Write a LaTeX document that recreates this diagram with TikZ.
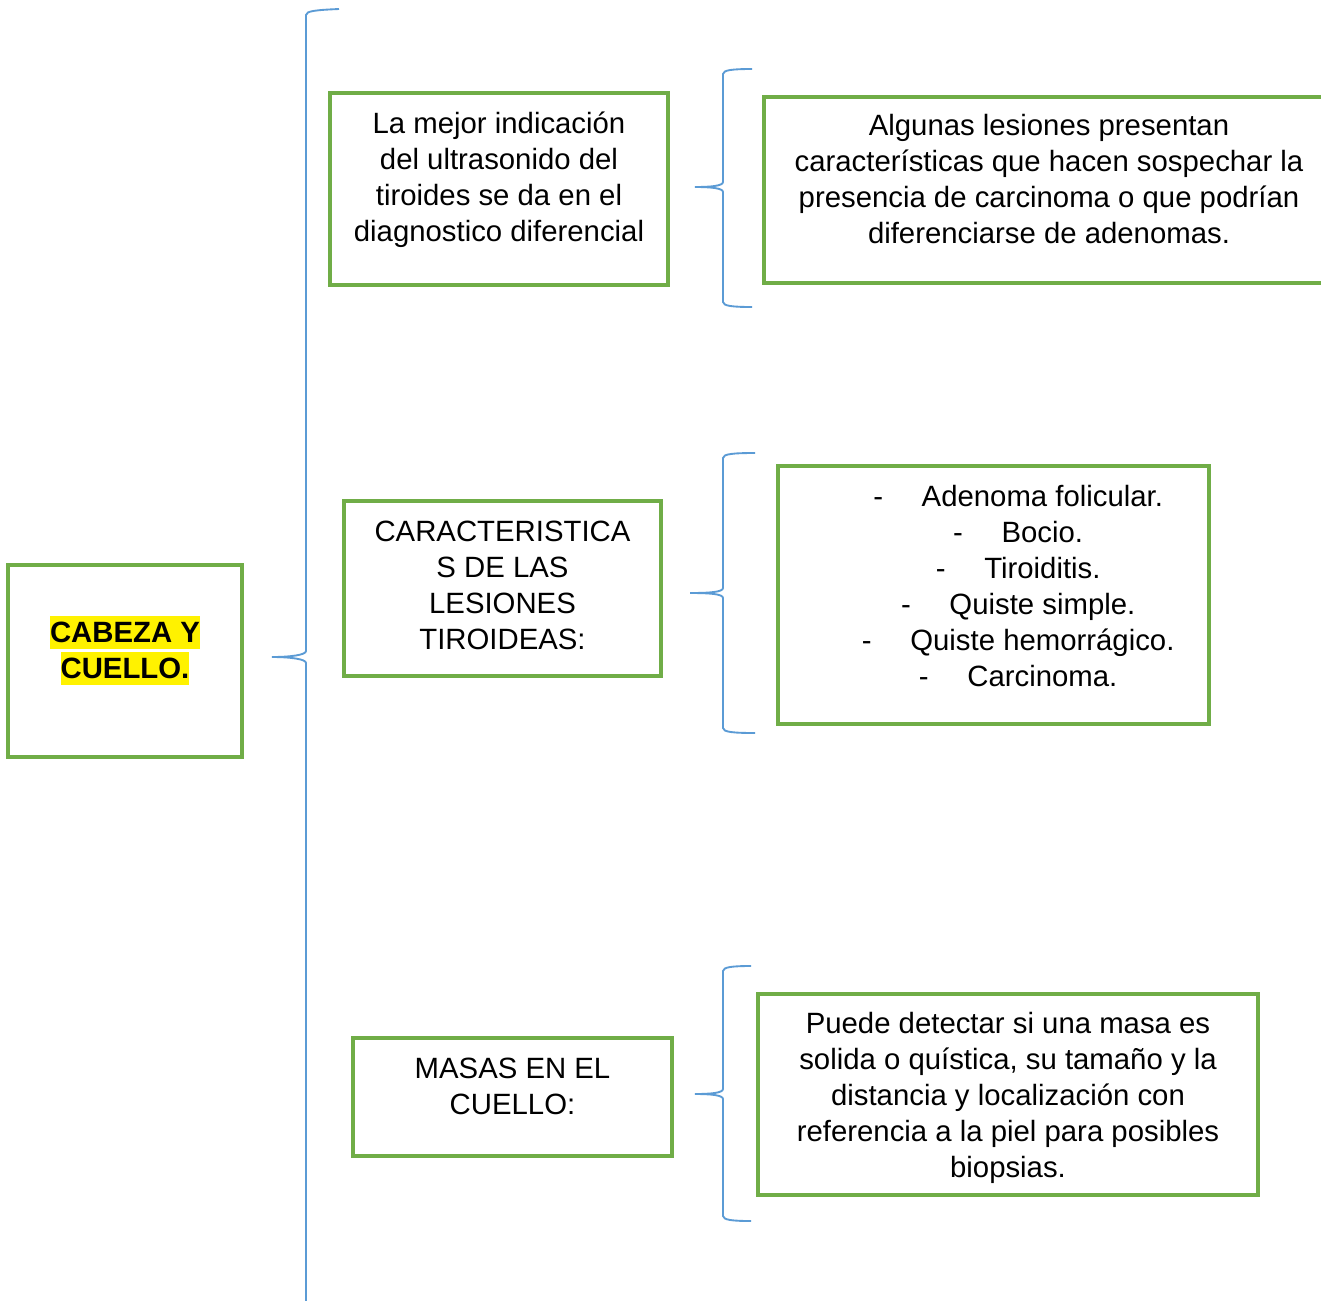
\documentclass[tikz,border=0pt]{standalone}
\usepackage{fontspec}
\setmainfont{Liberation Sans}

\definecolor{boxgreen}{HTML}{70AD47}
\definecolor{braceblue}{HTML}{5B9BD5}

\tikzset{
    box/.style={draw=boxgreen, line width=2.6pt, align=center, inner sep=0pt,
        font=\fontsize{22}{27}\selectfont},
    curly/.style={draw=braceblue, line width=1.4pt},
}
% extra depth under the last line lifts the text inside its box
\newcommand{\lift}[1]{\rule[-#1]{0pt}{0pt}}
\newcommand{\hilite}[1]{{\setlength{\fboxsep}{0pt}%
    \colorbox{yellow}{\rule[-0.212em]{0pt}{1.117em}#1}}}

\begin{document}
\begin{tikzpicture}[x=0.75pt, y=-0.75pt]
    \fill[white] (0,0) rectangle (1321,1300);
    \useasboundingbox (0,0) rectangle (1321,1300);

    \node[box, minimum width=175.5pt, minimum height=144pt, font=\fontsize{22}{27}\selectfont\bfseries]
        (title) at (125,661) {\hilite{CABEZA Y}\\\hilite{CUELLO.}\lift{21pt}};

    \node[box, minimum width=253.5pt, minimum height=144pt]
        (indic) at (499,189) {La mejor indicación\\del ultrasonido del\\tiroides se da en el\\diagnostico diferencial\lift{18pt}};
    \node[box, minimum width=427.5pt, minimum height=139.5pt]
        (algunas) at (1049,190) {Algunas lesiones presentan\\características que hacen sospechar la\\presencia de carcinoma o que podrían\\diferenciarse de adenomas.\lift{16pt}};

    \node[box, minimum width=237.75pt, minimum height=131.25pt]
        (caract) at (502.5,588.5) {CARACTERISTICA\\S DE LAS\\LESIONES\\TIROIDEAS:\lift{4.5pt}};
    \node[box, minimum width=323.25pt, minimum height=193.5pt]
        (lista) at (993.5,595) {%
        \hspace*{37pt}-\hspace{29pt}Adenoma folicular.\\
        \hspace*{37pt}-\hspace{29pt}Bocio.\\
        \hspace*{37pt}-\hspace{29pt}Tiroiditis.\\
        \hspace*{37pt}-\hspace{29pt}Quiste simple.\\
        \hspace*{37pt}-\hspace{29pt}Quiste hemorrágico.\\
        \hspace*{37pt}-\hspace{29pt}Carcinoma.\lift{14pt}};

    \node[box, minimum width=239.25pt, minimum height=88.5pt]
        (masas) at (512.5,1097) {MASAS EN EL\\CUELLO:\lift{16.5pt}};
    \node[box, minimum width=375pt, minimum height=150.75pt]
        (puede) at (1008,1094.5) {\rule{0pt}{21pt}Puede detectar si una masa es\\solida o quística, su tamaño y la\\distancia y localización con\\referencia a la piel para posibles\\biopsias.};

    % main brace
    \draw[curly] (339,9) .. controls (316,10) and (306,11) .. (306,15)
        -- (306,651) .. controls (306,655) and (290,657) .. (272,657)
        .. controls (290,657) and (306,659) .. (306,663) -- (306,1305);

    % small braces
    \foreach \xt/\xe/\yt/\ym/\yb in {695/752/69/187/307, 690/755/453/593/733, 695/751/966/1094/1221}{
        \draw[curly] (\xe,\yt) .. controls (733,\yt) and (723,\yt+1) .. (723,\yt+5)
            -- (723,\ym-5) .. controls (723,\ym-1) and (710,\ym) .. (\xt,\ym)
            .. controls (710,\ym) and (723,\ym+1) .. (723,\ym+5)
            -- (723,\yb-5) .. controls (723,\yb-1) and (733,\yb) .. (\xe,\yb);
    }
\end{tikzpicture}
\end{document}
